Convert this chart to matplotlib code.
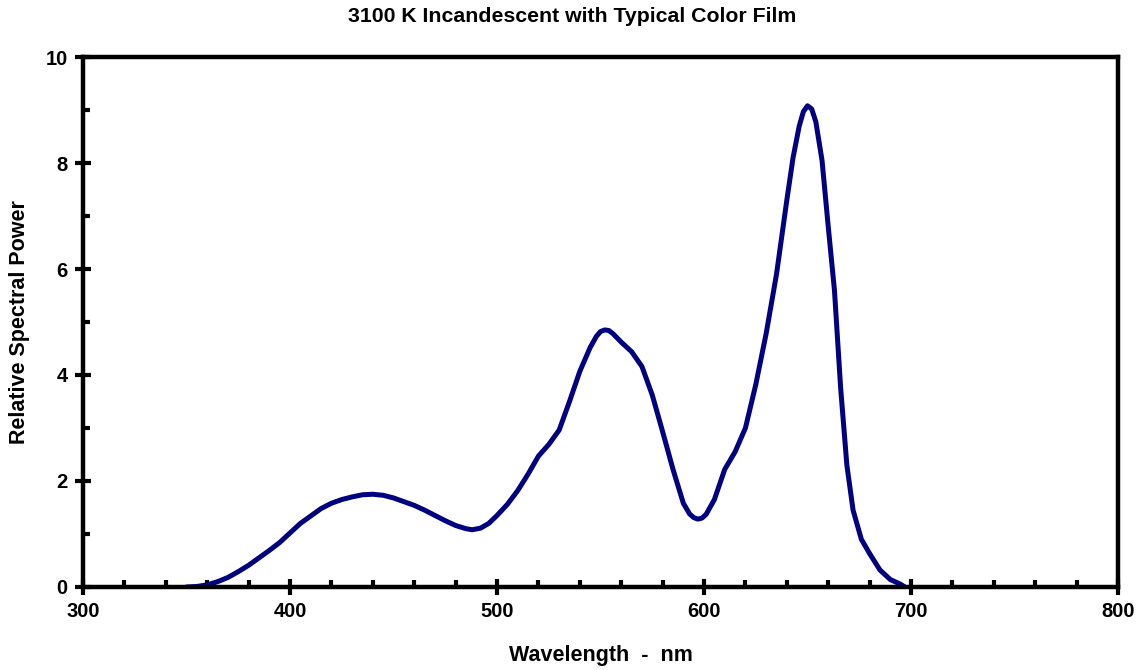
import numpy as np
import matplotlib.pyplot as plt
from matplotlib.ticker import MultipleLocator

# wavelength (nm) and relative spectral power
wavelength = [350, 355, 360, 365, 370, 375, 380, 385, 390, 395,
              400, 405, 410, 415, 420, 425, 430, 435, 440, 445,
              450, 455, 460, 465, 470, 475, 480, 485, 488, 492,
              496, 500, 505, 510, 515, 520, 525, 530, 535, 540,
              545, 548, 550, 552, 554, 556, 560, 565, 570, 575,
              580, 585, 590, 593, 595, 597, 599, 601, 605, 610,
              615, 620, 625, 630, 635, 640, 643, 646, 648, 650,
              652, 654, 657, 660, 663, 666, 669, 672, 676, 680,
              685, 690, 695, 697]
power = [0.00, 0.01, 0.04, 0.10, 0.18, 0.29, 0.41, 0.55, 0.69, 0.84,
         1.02, 1.20, 1.34, 1.48, 1.58, 1.65, 1.70, 1.74, 1.75, 1.73,
         1.68, 1.61, 1.54, 1.45, 1.35, 1.25, 1.16, 1.10, 1.08, 1.11,
         1.20, 1.35, 1.56, 1.82, 2.13, 2.47, 2.69, 2.96, 3.50, 4.07,
         4.52, 4.73, 4.82, 4.85, 4.84, 4.78, 4.62, 4.44, 4.16, 3.62,
         2.93, 2.22, 1.58, 1.38, 1.31, 1.28, 1.30, 1.37, 1.65, 2.22,
         2.55, 3.00, 3.82, 4.78, 5.90, 7.30, 8.10, 8.70, 8.97, 9.08,
         9.02, 8.78, 8.05, 6.80, 5.60, 3.75, 2.30, 1.45, 0.90, 0.63,
         0.32, 0.14, 0.05, 0.00]

plt.rcParams['font.family'] = ['Liberation Sans', 'DejaVu Sans']
plt.rcParams['font.weight'] = 'bold'

fig = plt.figure(figsize=(11.44, 6.7), dpi=100)
ax = fig.add_axes([0.0726, 0.1239, 0.9047, 0.791])

ax.plot(wavelength, power, color='#000080', lw=3.6, solid_capstyle='round',
        solid_joinstyle='round')

ax.set_xlim(300, 800)
ax.set_ylim(0, 10)
ax.xaxis.set_major_locator(MultipleLocator(100))
ax.xaxis.set_minor_locator(MultipleLocator(20))
ax.yaxis.set_major_locator(MultipleLocator(2))
ax.yaxis.set_minor_locator(MultipleLocator(1))

for s in ax.spines.values():
    s.set_linewidth(3.2)
    s.set_capstyle('projecting')

ax.tick_params(which='major', direction='inout', length=12, width=3,
               labelsize=14.5, pad=5)
ax.tick_params(which='minor', direction='in', length=5, width=3)
for lab in ax.get_xticklabels() + ax.get_yticklabels():
    lab.set_fontweight('bold')

# title is centred on the figure, not on the axes
fig.text(0.5, 1 - 17 / 670, '3100 K Incandescent with Typical Color Film',
         fontsize=15.3, fontweight='bold', ha='center', va='center')
ax.set_xlabel('Wavelength  -  nm', fontsize=15.5, fontweight='bold', labelpad=17)
ax.set_ylabel('Relative Spectral Power', fontsize=15.5, fontweight='bold',
              labelpad=11)

fig.savefig('out.png', dpi=100)
